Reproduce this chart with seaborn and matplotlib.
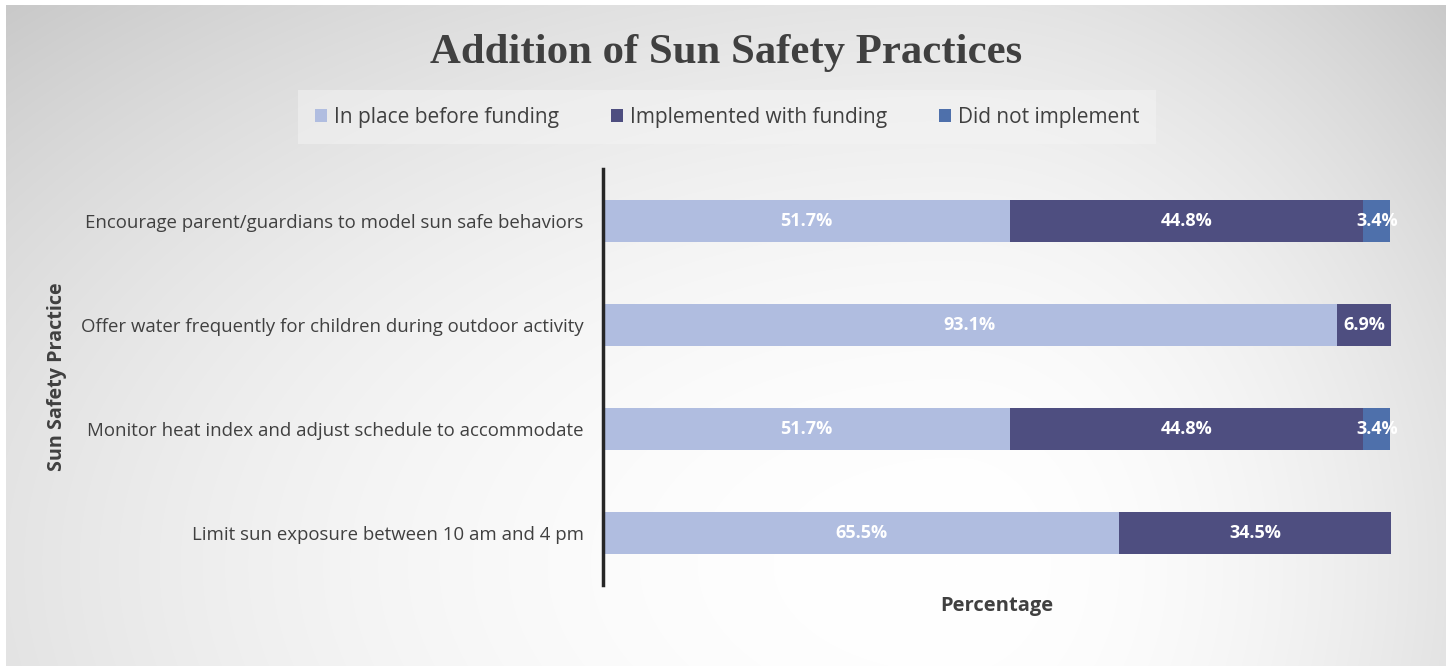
import numpy as np
import pandas as pd
import matplotlib
matplotlib.use("Agg")
import matplotlib.pyplot as plt
import seaborn as sns
from matplotlib.patches import Patch

categories = [
    "Encourage parent/guardians to model sun safe behaviors",
    "Offer water frequently for children during outdoor activity",
    "Monitor heat index and adjust schedule to accommodate",
    "Limit sun exposure between 10 am and 4 pm",
]
in_place = [51.7, 93.1, 51.7, 65.5]
implemented = [44.8, 6.9, 44.8, 34.5]
not_impl = [3.4, 0.0, 3.4, 0.0]
series_names = ["In place before funding", "Implemented with funding", "Did not implement"]
colors = ["#b0bde0", "#4e4e80", "#4e70ab"]

sns.set_theme(style="white")
plt.rcParams["font.family"] = ["Open Sans", "DejaVu Sans"]

W, H = 1452, 666
fig = plt.figure(figsize=(W / 100, H / 100), dpi=100)
fig.patch.set_facecolor("white")

# radial gradient background
BW, BH = 1440, 661
bg = fig.add_axes([6 / W, 0, BW / W, BH / H], zorder=-10)
yy, xx = np.mgrid[0:BH, 0:BW].astype(float)
cx, cy = 950, 560
u = np.where(xx < cx, (xx - cx) / cx, (xx - cx) / (BW - cx))
v = (yy - cy) / cy
d2 = (u ** 2 + v ** 2) / 2.0
val = np.clip(255 - 54 * d2, 198, 255) / 255.0
img = np.dstack([val, val, val])
bg.imshow(img, aspect="auto", interpolation="bilinear")
bg.set_axis_off()

ax = fig.add_axes([603 / W, 1 - 585 / H, (1391 - 603) / W, 416 / H])
ax.patch.set_alpha(0)

df = pd.DataFrame({
    "practice": categories,
    "a": in_place,
    "b": implemented,
    "c": not_impl,
})
df["ab"] = df["a"] + df["b"]
df["abc"] = df["ab"] + df["c"]

for col, color in [("abc", colors[2]), ("ab", colors[1]), ("a", colors[0])]:
    sns.barplot(data=df, y="practice", x=col, orient="h", color=color,
                saturation=1, width=0.4, ax=ax, edgecolor="none")

# data labels
for i in range(len(categories)):
    left = 0
    for vals in (in_place, implemented, not_impl):
        v_ = vals[i]
        if v_ > 0:
            ax.text(left + v_ / 2, i, f"{v_:.1f}%", ha="center", va="center",
                    color="white", fontsize=13, fontweight="bold")
        left += v_

ax.set_xlim(0, 100)
ax.set_ylim(3.5, -0.5)
ax.set_xticks([])
ax.tick_params(axis="y", length=0, pad=14, labelsize=13.4, labelcolor="#404040")
for s in ["top", "right", "bottom"]:
    ax.spines[s].set_visible(False)
ax.spines["left"].set_color("#262626")
ax.spines["left"].set_linewidth(2.5)
ax.set_xlabel("Percentage", fontsize=14.5, fontweight="bold", color="#404040")
ax.xaxis.set_label_coords(0.5, -21 / 416)
ax.xaxis.label.set_va("center")
ax.set_ylabel("Sun Safety Practice", fontsize=14.2, fontweight="bold", color="#404040")
ax.yaxis.set_label_coords(-546 / 788, 0.5)
ax.yaxis.label.set_va("center")

fig.text(726 / W, 1 - 53 / H, "Addition of Sun Safety Practices", ha="center", va="center",
         fontsize=30.8, fontweight="bold", color="#404040", family="Liberation Serif")

handles = [Patch(facecolor=c, edgecolor="none") for c in colors]
leg = fig.legend(handles, series_names, loc="center", bbox_to_anchor=(727 / W, 1 - 117 / H),
                 ncol=3, frameon=True, fontsize=15, handlelength=0.6, handleheight=0.6,
                 handletextpad=0.3, columnspacing=2.5, labelcolor="#404040",
                 borderpad=0.8)
leg.get_frame().set_facecolor("#f4f4f4")
leg.get_frame().set_edgecolor("none")
leg.get_frame().set_alpha(0.5)
leg.get_frame().set_boxstyle("square", pad=0.0)

fig.savefig("out.png", dpi=100)
